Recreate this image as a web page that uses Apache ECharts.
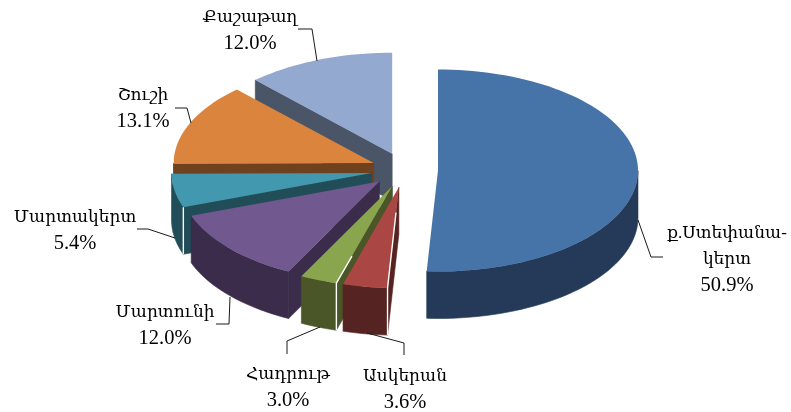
<!DOCTYPE html>
<html>
<head>
<meta charset="utf-8">
<style>
html, body { margin: 0; padding: 0; background: #fff; }
#main { width: 791px; height: 412px; }
</style>
<script src="https://cdn.jsdelivr.net/npm/echarts@6/dist/echarts.min.js"></script>
</head>
<body>
<div id="main"></div>
<script>
// data
var categories = ['ք.Ստեփանա-\nկերտ', 'Ասկերան', 'Հադրութ', 'Մարտունի', 'Մարտակերտ', 'Շուշի', 'Քաշաթաղ'];
var shares = [50.9, 3.6, 3.0, 12.0, 5.4, 13.1, 12.0];

// colours, top face and side
var topColors = ['#4674a8', '#aa4744', '#89a54e', '#71588f', '#4198af', '#db843d', '#93a9cf'];
var sideColors = ['#243a58', '#552321', '#4a5528', '#3a2c4a', '#214d58', '#6e421f', '#4a5568'];

// pie geometry, tilted so the circle is an ellipse
var cx = 404.5, cy = 170, rx = 200, ry = 101, depth = 47;
var explodeX = 33.5, explodeY = 17.5;

// white seam at the front corner of some slices: how far it runs up the top edge, -1 = no seam
var seams = [-1, 0.75, 0.28, -1, 0, -1, -1];

// label anchors and leader lines
var labelPos = [[727, 260], [405, 390], [288, 388], [165, 326], [75, 231], [143, 109], [250, 31]];
var leaders = [
  [[638, 220], [651, 257], [663, 257]],
  [[404, 355], [404, 343], [367, 333]],
  [[287, 354], [287, 341], [320, 327]],
  [[216, 324], [229, 324], [230, 297]],
  [[137, 229], [148, 229], [175, 238]],
  [[175, 108], [187, 108], [191, 123]],
  [[298, 29], [312, 29], [317, 61]]
];

var total = shares.reduce(function (a, b) { return a + b; }, 0);
var starts = [];
shares.reduce(function (acc, v, i) { starts[i] = acc; return acc + v; }, 0);

function ptOn(ox, oy, deg, dy) {
  var a = deg * Math.PI / 180;
  return [ox + rx * Math.sin(a), oy - ry * Math.cos(a) + (dy || 0)];
}

function arc(ox, oy, from, to, dy) {
  var pts = [];
  var n = Math.max(2, Math.ceil(Math.abs(to - from) / 2));
  for (var k = 0; k <= n; k++) {
    pts.push(ptOn(ox, oy, from + (to - from) * k / n, dy));
  }
  return pts;
}

function labelText(i, share) {
  var names = categories[i].split('\n').map(function (s) { return '{n|' + s + '}'; });
  return names.join('\n') + '\n{p|' + share.toFixed(1) + '%}';
}

function renderSlice(params, api) {
  var i = params.dataIndex;
  var share = api.value(0);
  var a0 = starts[i] / total * 360;
  var a1 = a0 + share / total * 360;
  var mid = (a0 + a1) / 2 * Math.PI / 180;
  // every slice is pulled out along its own middle angle
  var ox = cx + explodeX * Math.sin(mid);
  var oy = cy - explodeY * Math.cos(mid);
  var base = (shares.length - i) * 10;
  var children = [];

  var s0 = ptOn(ox, oy, a0);
  if (Math.sin(a0 * Math.PI / 180) < 0) {
    children.push({
      type: 'polygon',
      z2: base,
      shape: { points: [[ox, oy], s0, [s0[0], s0[1] + depth], [ox, oy + depth]] },
      style: { fill: sideColors[i], stroke: sideColors[i], lineWidth: 0.6 }
    });
  }
  var f0 = Math.max(a0, 90), f1 = Math.min(a1, 270);
  if (f1 > f0) {
    children.push({
      type: 'polygon',
      z2: base + 1,
      shape: { points: arc(ox, oy, f0, f1).concat(arc(ox, oy, f1, f0, depth)) },
      style: { fill: sideColors[i], stroke: sideColors[i], lineWidth: 0.6 }
    });
  }
  children.push({
    type: 'polygon',
    z2: base + 2,
    shape: { points: [[ox, oy]].concat(arc(ox, oy, a0, a1)) },
    style: { fill: topColors[i] }
  });
  if (seams[i] >= 0) {
    var t = seams[i];
    children.push({
      type: 'polyline',
      z2: base + 3,
      shape: { points: [
        [s0[0] + (ox - s0[0]) * t, s0[1] + (oy - s0[1]) * t],
        s0,
        [s0[0], s0[1] + depth]
      ] },
      style: { fill: null, stroke: '#fff', lineWidth: 1.4 }
    });
  }
  children.push({
    type: 'polyline',
    z2: 100,
    shape: { points: leaders[i] },
    style: { fill: null, stroke: '#1a1a1a', lineWidth: 1 }
  });
  children.push({
    type: 'text',
    z2: 101,
    style: {
      x: labelPos[i][0],
      y: labelPos[i][1],
      text: labelText(i, share),
      align: 'center',
      verticalAlign: 'middle',
      rich: {
        n: { fontFamily: '"Liberation Serif", "DejaVu Serif", serif', fontSize: 17, lineHeight: 26, fill: '#000' },
        p: { fontFamily: '"Liberation Serif", "DejaVu Serif", serif', fontSize: 20.5, lineHeight: 27, fill: '#000' }
      }
    }
  });
  return { type: 'group', children: children };
}

var myChart = echarts.init(document.getElementById('main'), null, { renderer: 'canvas' });
var option = {
  animation: false,
  backgroundColor: '#fff',
  series: [{
    type: 'custom',
    coordinateSystem: 'none',
    renderItem: renderSlice,
    data: shares.map(function (v) { return [v]; })
  }]
};
myChart.setOption(option);
</script>
</body>
</html>
